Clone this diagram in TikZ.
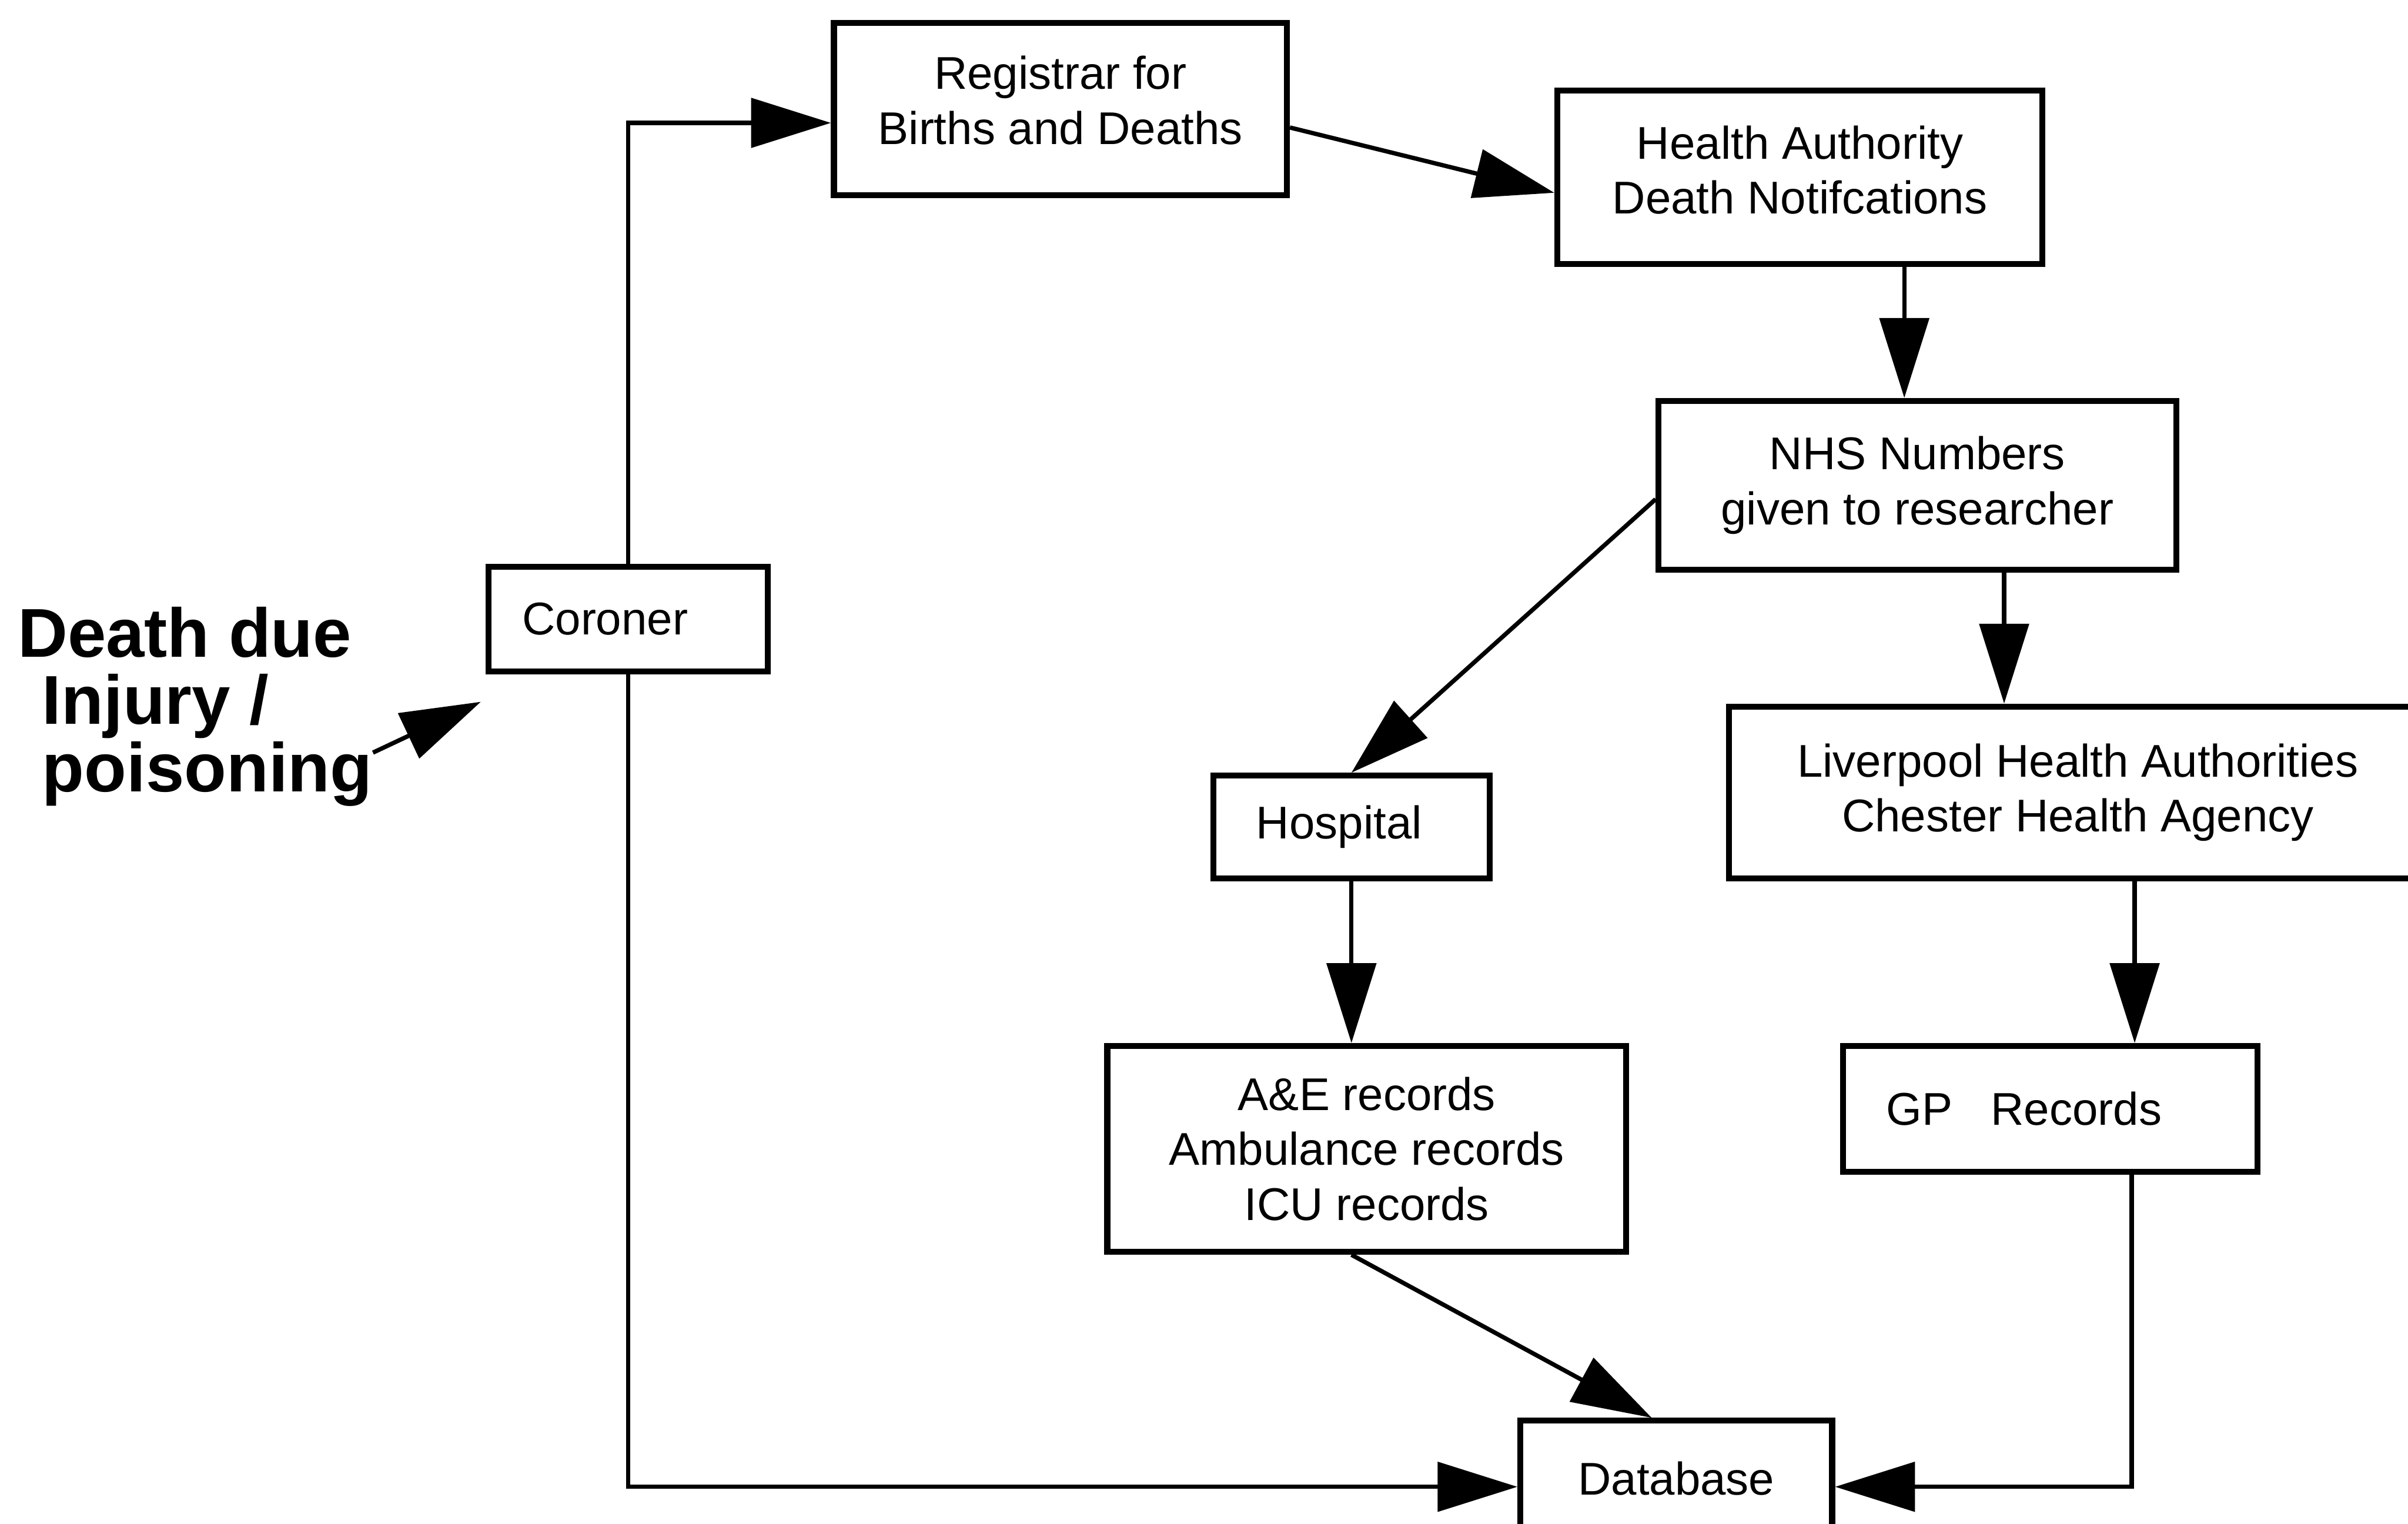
\documentclass[tikz,border=0pt]{standalone}
\usepackage{fontspec}
\setmainfont{Liberation Sans}
\usetikzlibrary{arrows.meta, positioning, calc}

\begin{document}
\begin{tikzpicture}[
    every node/.style={font=\fontsize{8.5}{10.2}\selectfont},
    box/.style={draw, line width=1.1pt, fill=white, align=center, inner sep=0pt},
    lbl/.style={font=\fontsize{12.8}{12.5}\selectfont\bfseries, align=left},
    dp/.style={-{Triangle[length=5.2mm, width=3.2mm]}, line width=0.8pt}
]
\useasboundingbox (0,0) rectangle (15.68,-9.92);
\clip (0,0) rectangle (15.68,-9.92);

\node[box, minimum width=2.95cm, minimum height=1.12cm] (reg) at (6.905,-0.71) {Registrar for\\Births and Deaths\\[-2.4mm]\mbox{}};
\node[box, minimum width=3.16cm, minimum height=1.13cm] (ha) at (11.72,-1.155) {Health Authority\\Death Notifcations\\[-2.6mm]\mbox{}};
\node[box, minimum width=3.37cm, minimum height=1.10cm] (nhs) at (12.485,-3.16) {NHS Numbers\\given to researcher};
\node[box, minimum width=1.82cm, minimum height=0.68cm] (cor) at (4.09,-4.03) {Coroner\kern3mm};
\node[box, minimum width=1.80cm, minimum height=0.67cm] (hosp) at (8.80,-5.385) {Hospital\kern1.6mm};
\node[box, minimum width=4.54cm, minimum height=1.12cm] (liv) at (13.53,-5.16) {Liverpool Health Authorities\\Chester Health Agency};
\node[box, minimum width=3.38cm, minimum height=1.34cm] (ae) at (8.90,-7.48) {A\&E records\\Ambulance records\\ICU records};
\node[box, minimum width=2.70cm, minimum height=0.82cm] (gp) at (13.35,-7.22) {GP\ \ \ Records\kern3.4mm};
\node[box, minimum width=2.03cm, minimum height=0.75cm] (db) at (10.915,-9.625) {Database};
\node[lbl] (cause) at (1.27,-4.6) {Death due\\\hspace*{1.6mm}Injury /\\\hspace*{1.6mm}poisoning};

\draw[dp] (cor.north) |- ([yshift=-0.9mm]reg.west);
\draw[dp] ([yshift=-1.2mm]reg.east) -- ([yshift=-1mm]ha.west);
\draw[dp] ([xshift=6.8mm]ha.south) -- ([xshift=6.8mm]ha.south |- nhs.north);
\draw[dp] ([yshift=-0.9mm]nhs.west) -- (hosp.north);
\draw[dp] ([xshift=5.65mm]nhs.south) -- ([xshift=5.65mm]nhs.south |- liv.north);
\draw[dp] (hosp.south) -- (hosp.south |- ae.north);
\draw[dp] ([xshift=3.7mm]liv.south) -- ([xshift=3.7mm]liv.south |- gp.north);
\draw[dp] ([xshift=-1mm]ae.south) -- ([xshift=-1.6mm]db.north);
\draw[dp] (cor.south) |- ([yshift=-0.55mm]db.west);
\draw[dp] ([xshift=5.3mm]gp.south) |- ([yshift=-0.55mm]db.east);
\draw[dp] ([shift={(-1.2mm,-3mm)}]cause.east) -- ([shift={(-0.3mm,-1.8mm)}]cor.south west);
\end{tikzpicture}
\end{document}
